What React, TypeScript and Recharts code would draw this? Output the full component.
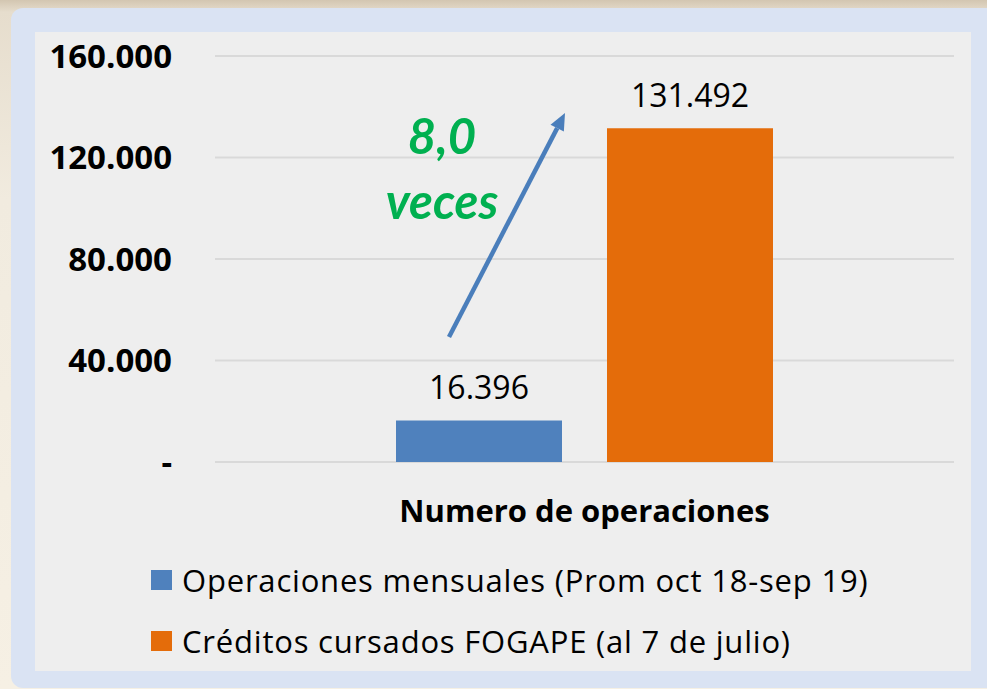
import React from "react";
import { BarChart, Bar, XAxis, YAxis, CartesianGrid, LabelList, Legend } from "recharts";

const categories = ["Numero de operaciones"];
const seriesNames = ["Operaciones mensuales (Prom oct 18-sep 19)", "Créditos cursados FOGAPE (al 7 de julio)"];
const mensuales = [16396];
const fogape = [131492];
const yTicks = [0, 40000, 80000, 120000, 160000];
const annotationLines = ["8,0", "veces"];

const data = categories.map((c, i) => ({ name: c, mensuales: mensuales[i], fogape: fogape[i] }));

const FONT = "'Open Sans', Lato, sans-serif";
const AFONT = "Lato, 'Open Sans', sans-serif";
const BLUE = "#4f81bd";
const ORANGE = "#e46c0a";

const fmt = (v: number) => (v === 0 ? "-" : v.toString().replace(/\B(?=(\d{3})+(?!\d))/g, "."));

const LegendContent = (props: any) => {
  const payload = [...(props.payload || [])].sort(
    (a: any, b: any) => seriesNames.indexOf(a.value) - seriesNames.indexOf(b.value)
  );
  return (
    <div style={{ fontFamily: FONT }}>
      {payload.map((p: any) => (
        <div key={p.value} style={{ display: "flex", alignItems: "center", height: 61 }}>
          <div style={{ width: 21, height: 20, background: p.color, marginRight: 10 }} />
          <span style={{ fontSize: 31, letterSpacing: 0.8, color: "#000", whiteSpace: "nowrap", lineHeight: "36px" }}>{p.value}</span>
        </div>
      ))}
    </div>
  );
};

export default function App() {
  // arrow geometry (annotation)
  const tail = { x: 449, y: 337 };
  const tip = { x: 565, y: 113 };
  const dx = tip.x - tail.x;
  const dy = tip.y - tail.y;
  const len = Math.sqrt(dx * dx + dy * dy);
  const ux = dx / len;
  const uy = dy / len;
  const headL = 17;
  const headW = 7.5;
  const bx = tip.x - ux * headL;
  const by = tip.y - uy * headL;
  const px = -uy;
  const py = ux;
  return (
    <div style={{ position: "absolute", left: 0, top: 0, width: 987, height: 689, overflow: "hidden", background: "linear-gradient(to bottom, #d3c6b1 0px, #e6ddcd 12px, #f1ebdf 200px, #f6f0e4 689px)" }}>
      <div style={{ position: "absolute", left: 11, top: 8, width: 1010, height: 680, background: "#dae3f3", borderRadius: 12 }} />
      <div style={{ position: "absolute", left: 35, top: 32, width: 936, height: 639, background: "#eeeeee" }}>
        <BarChart width={936} height={639} data={data} margin={{ top: 24, right: 17, left: 0, bottom: 0 }} barGap={45}>
          <CartesianGrid vertical={false} stroke="#d9d9d9" strokeWidth={2} />
          <XAxis
            dataKey="name"
            axisLine={false}
            tickLine={false}
            tickSize={0}
            tickMargin={38}
            height={209}
            tick={{ fontSize: 31, fontWeight: 700, fill: "#000", fontFamily: FONT }}
          />
          <YAxis
            domain={[0, 160000]}
            ticks={yTicks}
            width={180}
            axisLine={false}
            tickLine={false}
            tickSize={0}
            tickMargin={43}
            tickFormatter={fmt}
            tick={{ fontSize: 33, fontWeight: 700, fill: "#000", fontFamily: FONT }}
          />
          <Legend
            layout="vertical"
            align="center"
            verticalAlign="middle"
            wrapperStyle={{ top: 517, left: 116, width: "auto" }}
            content={<LegendContent />}
          />
          <Bar dataKey="mensuales" name={seriesNames[0]} fill={BLUE} barSize={166} isAnimationActive={false}>
            <LabelList dataKey="mensuales" position="top" offset={21} formatter={(v: any) => fmt(Number(v))} style={{ fontSize: 32, fill: "#000", fontFamily: FONT }} />
          </Bar>
          <Bar dataKey="fogape" name={seriesNames[1]} fill={ORANGE} barSize={166} isAnimationActive={false}>
            <LabelList dataKey="fogape" position="top" offset={21} formatter={(v: any) => fmt(Number(v))} style={{ fontSize: 32, fill: "#000", fontFamily: FONT }} />
          </Bar>
        </BarChart>
      </div>
      <svg style={{ position: "absolute", left: 0, top: 0 }} width={987} height={689}>
        <line x1={tail.x} y1={tail.y} x2={bx} y2={by} stroke="#4a7ebb" strokeWidth={4.5} />
        <polygon
          points={`${tip.x},${tip.y} ${bx + px * headW},${by + py * headW} ${bx - px * headW},${by - py * headW}`}
          fill="#4a7ebb"
        />
        {annotationLines.map((t, i) => (
          <text key={t} x={442} y={154 + i * 65} textAnchor="middle" fontFamily={AFONT} fontSize={49} fontWeight={700} fontStyle="italic" fill="#00b050">
            {t}
          </text>
        ))}
      </svg>
    </div>
  );
}
